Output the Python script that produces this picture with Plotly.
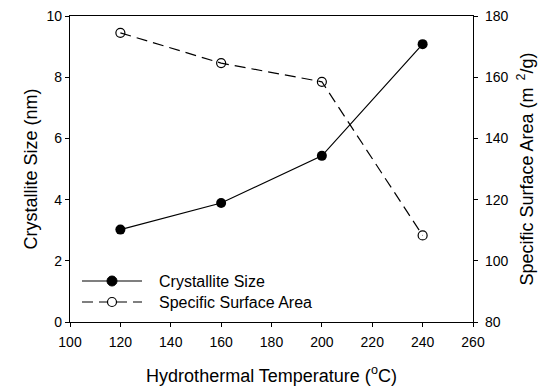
import plotly.graph_objects as go

temperature = [120, 160, 200, 240]
crystallite_size = [3.02, 3.89, 5.43, 9.08]
surface_area = [174.5, 164.6, 158.5, 108.3]
legend_labels = ["Crystallite Size", "Specific Surface Area"]

FONT = "Liberation Sans, Arial, sans-serif"
W, H = 546, 390
ML, MR, MT, MB = 70, 73, 16, 68
PW, PH = W - ML - MR, H - MT - MB


def px(x):
    return (x - ML) / PW


def py(y):
    return (H - MB - y) / PH


fig = go.Figure()
fig.add_trace(go.Scatter(
    x=temperature, y=crystallite_size, name=legend_labels[0],
    mode="lines+markers", showlegend=False,
    line=dict(color="black", width=1.2),
    marker=dict(symbol="circle", size=10, color="black"),
))
fig.add_trace(go.Scatter(
    x=temperature, y=surface_area, name=legend_labels[1],
    mode="lines+markers", yaxis="y2", showlegend=False,
    line=dict(color="black", width=1.2, dash="11px,6px"),
    marker=dict(symbol="circle-open", size=9, color="black", line=dict(width=1.2)),
))

# manual legend (layout decoration)
rows = [281, 302]
shapes = [
    dict(type="line", xref="paper", yref="paper", x0=px(82), x1=px(142),
         y0=py(rows[0]), y1=py(rows[0]), line=dict(color="black", width=1.2)),
    dict(type="line", xref="paper", yref="paper", x0=px(82), x1=px(142),
         y0=py(rows[1]), y1=py(rows[1]), line=dict(color="black", width=1.2, dash="11px,6px")),
    dict(type="circle", xref="paper", yref="paper", xsizemode="pixel", ysizemode="pixel",
         xanchor=px(112), yanchor=py(rows[0]), x0=-5, x1=5, y0=-5, y1=5,
         fillcolor="black", line=dict(color="black", width=1)),
    dict(type="circle", xref="paper", yref="paper", xsizemode="pixel", ysizemode="pixel",
         xanchor=px(112), yanchor=py(rows[1]), x0=-4.5, x1=4.5, y0=-4.5, y1=4.5,
         fillcolor="white", line=dict(color="black", width=1.2)),
]
annotations = [
    dict(text=legend_labels[i], xref="paper", yref="paper", x=px(157), y=py(rows[i]),
         xanchor="left", yanchor="middle", showarrow=False,
         font=dict(family=FONT, size=16, color="black"))
    for i in range(2)
]

axis_common = dict(
    showline=True, linecolor="black", linewidth=1.2,
    ticks="outside", ticklen=4, tickcolor="black", tickwidth=1,
    showgrid=False, zeroline=False, automargin=False,
    tickfont=dict(family=FONT, size=14, color="black"),
)

fig.update_layout(
    width=W, height=H,
    margin=dict(l=ML, r=MR, t=MT, b=MB),
    paper_bgcolor="white", plot_bgcolor="white",
    font=dict(family=FONT, size=18, color="black"),
    xaxis=dict(range=[100, 260], dtick=20, mirror=True, ticklabelstandoff=3,
               title=dict(text="Hydrothermal Temperature (<sup>o</sup>C)", standoff=20,
                          font=dict(family=FONT, size=18)),
               **axis_common),
    yaxis=dict(range=[0, 10], dtick=2,
               title=dict(text="Crystallite Size (nm)", standoff=4,
                          font=dict(family=FONT, size=18)),
               **axis_common),
    yaxis2=dict(range=[80, 180], dtick=20, overlaying="y", side="right",
                ticklabelstandoff=4,
                title=dict(text="Specific Surface Area (m<sup>  2</sup>/g)", standoff=12,
                           font=dict(family=FONT, size=18)),
                **axis_common),
    showlegend=False,
    shapes=shapes,
    annotations=annotations,
)

fig.write_html("out.html")
